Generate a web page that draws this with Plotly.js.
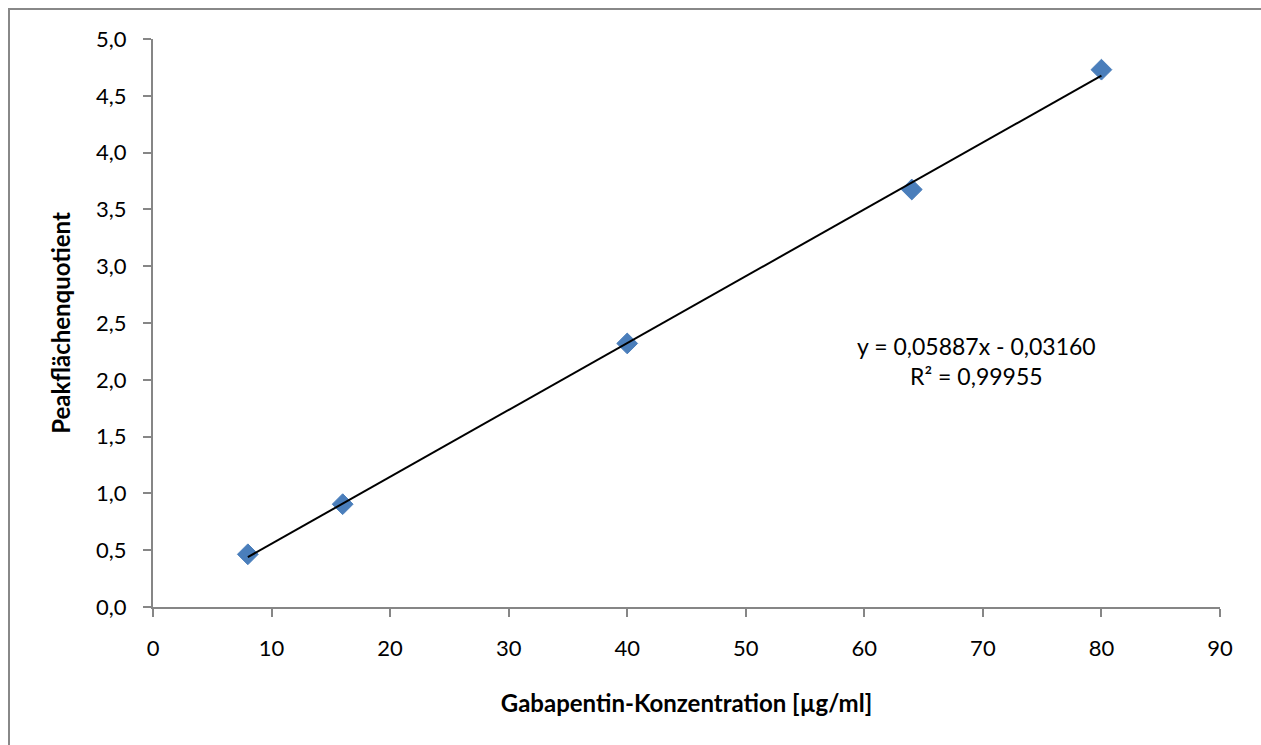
<!DOCTYPE html>
<html>
<head>
<meta charset="utf-8">
<script src="https://cdn.plot.ly/plotly-3.0.1.min.js"></script>
<style>
  html, body { margin: 0; padding: 0; background: #fff; }
  #chart { width: 1261px; height: 745px; }
</style>
</head>
<body>
<div id="chart"></div>
<script>
// Calibration data: Gabapentin concentration vs. peak area ratio
const konzentration = [8, 16, 40, 64, 80];
const peakQuotient = [0.464, 0.905, 2.32, 3.675, 4.73];

// Linear regression (as stated in the equation label)
const slope = 0.05887;
const intercept = -0.03160;
const rSquared = 0.99955;

const xTicks = [0, 10, 20, 30, 40, 50, 60, 70, 80, 90];
const yTicks = [0, 0.5, 1, 1.5, 2, 2.5, 3, 3.5, 4, 4.5, 5];

const fitX = [konzentration[0], konzentration[konzentration.length - 1]];
const fitY = fitX.map(x => slope * x + intercept);

const fmt = (v, d) => v.toFixed(d).replace('.', ',');
const eqText = 'y = ' + fmt(slope, 5) + 'x - ' + fmt(Math.abs(intercept), 5) +
               '<br>R² = ' + fmt(rSquared, 5);

const font = 'Lato, "Open Sans", sans-serif';
const axisColor = '#868686';

const traces = [
  {
    x: konzentration, y: peakQuotient,
    type: 'scatter', mode: 'markers',
    marker: { symbol: 'diamond', size: 16, color: '#4a7ebb',
              line: { color: '#4a7ebb', width: 1 } },
    hoverinfo: 'x+y', showlegend: false
  },
  {
    x: fitX, y: fitY,
    type: 'scatter', mode: 'lines',
    line: { color: '#000000', width: 2 },
    hoverinfo: 'skip', showlegend: false
  }
];

const W = 1261, H = 745;
const m = { l: 153, r: 41, t: 39, b: 138 };
const pw = W - m.l - m.r, ph = H - m.t - m.b;
const px = v => (v - m.l) / pw;          // pixel -> paper x
const py = v => 1 - (v - m.t) / ph;      // pixel -> paper y

const layout = {
  width: W, height: H,
  margin: m,
  paper_bgcolor: '#ffffff',
  plot_bgcolor: '#ffffff',
  separators: ',.',
  font: { family: font, size: 22, color: '#000000' },
  xaxis: {
    range: [0, 90], tickvals: xTicks, ticktext: xTicks.map(String),
    showgrid: false, zeroline: false,
    showline: true, linecolor: axisColor, linewidth: 2,
    ticks: 'outside', ticklen: 8, tickwidth: 2, tickcolor: axisColor,
    ticklabelstandoff: 13,
    tickfont: { family: font, size: 22, color: '#000000' },
    title: { text: '<b>Gabapentin-Konzentration [µg/ml]</b>', standoff: 35,
             font: { family: font, size: 24, color: '#000000' } },
    fixedrange: true
  },
  yaxis: {
    range: [0, 5], tickvals: yTicks, tickformat: '.1f',
    showgrid: false, zeroline: false,
    showline: true, linecolor: axisColor, linewidth: 2,
    ticks: 'outside', ticklen: 8, tickwidth: 2, tickcolor: axisColor,
    ticklabelstandoff: 12,
    tickfont: { family: font, size: 22, color: '#000000' },
    title: { text: '<b>Peakflächenquotient</b>', standoff: 19,
             font: { family: font, size: 24, color: '#000000' } },
    fixedrange: true
  },
  annotations: [
    {
      xref: 'paper', yref: 'paper',
      x: px(976), y: py(361), xanchor: 'center', yanchor: 'middle',
      text: eqText, showarrow: false, align: 'center',
      font: { family: font, size: 23, color: '#000000' }
    }
  ],
  shapes: [
    // chart frame (left and top edges)
    { type: 'line', xref: 'paper', yref: 'paper',
      x0: px(9), x1: px(9), y0: py(9), y1: py(760),
      line: { color: '#888888', width: 2 } },
    { type: 'line', xref: 'paper', yref: 'paper',
      x0: px(8), x1: px(1280), y0: py(9), y1: py(9),
      line: { color: '#888888', width: 2 } }
  ]
};

Plotly.newPlot('chart', traces, layout, { displayModeBar: false, staticPlot: true });
</script>
</body>
</html>
